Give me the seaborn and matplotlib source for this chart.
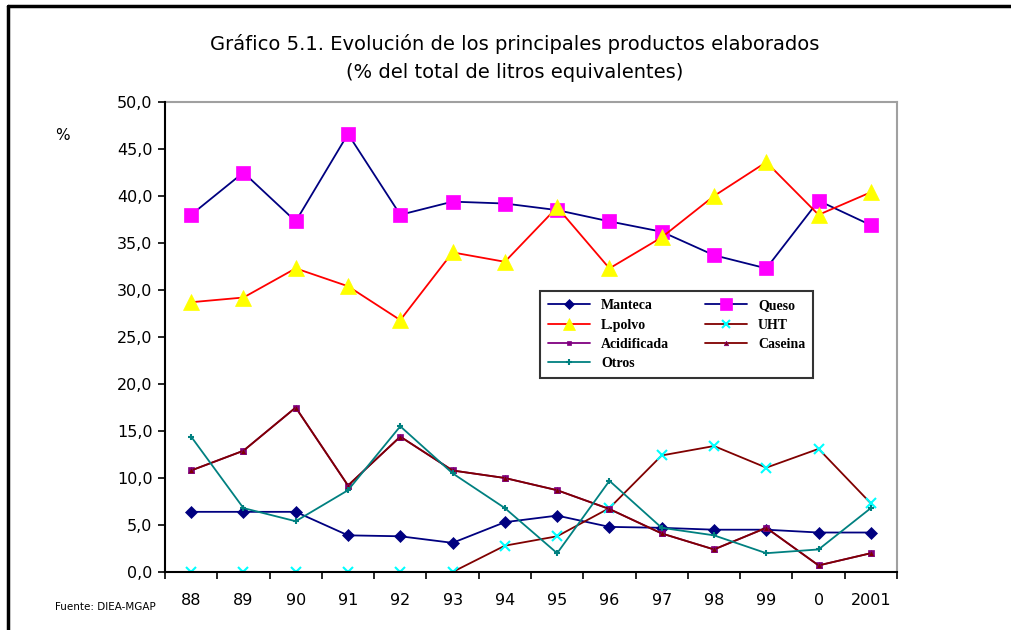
import matplotlib
matplotlib.use("Agg")
import numpy as np
import seaborn as sns
import matplotlib.pyplot as plt
from matplotlib.lines import Line2D

# =========================
# DATA (% of total equivalent litres)
# =========================
years = ["88", "89", "90", "91", "92", "93", "94", "95", "96", "97", "98", "99", "0", "2001"]

manteca = [6.4, 6.4, 6.4, 3.9, 3.8, 3.1, 5.3, 6.0, 4.8, 4.7, 4.5, 4.5, 4.2, 4.2]
queso = [38.0, 42.5, 37.3, 46.6, 38.0, 39.4, 39.2, 38.5, 37.3, 36.2, 33.7, 32.3, 39.5, 36.9]
lpolvo = [28.7, 29.2, 32.3, 30.4, 26.8, 34.0, 33.0, 38.8, 32.3, 35.6, 40.0, 43.6, 38.0, 40.4]
uht = [0.0, 0.0, 0.0, 0.0, 0.0, 0.0, 2.8, 3.8, 6.8, 12.4, 13.4, 11.1, 13.1, 7.3]
acidificada = [10.8, 12.9, 17.5, 9.2, 14.4, 10.8, 10.0, 8.7, 6.7, 4.1, 2.4, 4.7, 0.7, 2.0]
caseina = [10.8, 12.9, 17.5, 9.2, 14.4, 10.8, 10.0, 8.7, 6.7, 4.1, 2.4, 4.7, 0.7, 2.0]
otros = [14.4, 6.8, 5.4, 8.7, 15.5, 10.5, 6.8, 2.0, 9.7, 4.7, 3.9, 2.0, 2.4, 6.8]

x = np.arange(len(years))

# =========================
# STYLE
# =========================
sns.set_style("white")
plt.rcParams["font.family"] = ["DejaVu Sans"]
plt.rcParams["text.color"] = "black"
plt.rcParams["xtick.color"] = "black"
plt.rcParams["ytick.color"] = "black"

fig = plt.figure(figsize=(10.11, 6.30), dpi=100)
ax = fig.add_axes([165 / 1011, 1 - 572 / 630, 732 / 1011, 470 / 630])

# series: label, values, line color, marker, marker size, marker face, marker edge
series = [
    ("Manteca", manteca, "#000080", "D", 6, "#000080", "#000080"),
    ("Queso", queso, "#000080", "s", 10, "#FF00FF", "#FF00FF"),
    ("L.polvo", lpolvo, "#FF0000", "^", 11, "#FFFF00", "#FFFF00"),
    ("UHT", uht, "#800000", "x", 7, "#00FFFF", "#00FFFF"),
    ("Acidificada", acidificada, "#800080", "s", 4, "#800080", "#800080"),
    ("Caseina", caseina, "#800000", "^", 4, "#800000", "#800080"),
    ("Otros", otros, "#008080", "+", 5, "#008080", "#008080"),
]

handles = {}
for name, vals, lc, mk, ms, mfc, mec in series:
    sns.lineplot(x=x, y=vals, ax=ax, color=lc, linewidth=1.3,
                 marker=mk, markersize=ms, markerfacecolor=mfc,
                 markeredgecolor=mec, markeredgewidth=1.5 if mk in "x+" else 0.5,
                 legend=False)
    handles[name] = Line2D([0], [0], color=lc, linewidth=1.3, marker=mk,
                           markersize=ms * 0.8, markerfacecolor=mfc,
                           markeredgecolor=mec,
                           markeredgewidth=1.5 if mk in "x+" else 0.5)

# =========================
# AXES
# =========================
ax.set_xlim(-0.5, len(years) - 0.5)
ax.set_ylim(0, 50)
ax.set_yticks(np.arange(0, 51, 5))
ax.set_yticklabels([f"{v:.1f}".replace(".", ",") for v in np.arange(0, 51, 5)],
                   fontsize=11.5)
ax.set_xticks(x)
ax.set_xticklabels(years, fontsize=11.5)
ax.set_xticks(np.arange(-0.5, len(years), 1), minor=True)
ax.tick_params(axis="x", which="major", length=0, pad=15)
ax.tick_params(axis="x", which="minor", length=5, width=1.2, direction="out",
               color="black", bottom=True)
ax.tick_params(axis="y", length=5, width=1.2, direction="out", color="black",
               left=True, pad=4)
ax.set_xlabel("")
ax.set_ylabel("")

for side in ["left", "bottom"]:
    ax.spines[side].set_color("black")
    ax.spines[side].set_linewidth(1.5)
    ax.spines[side].set_zorder(5)
for side in ["top", "right"]:
    ax.spines[side].set_color("#a0a0a0")
    ax.spines[side].set_linewidth(1.5)

# legend: row-wise layout with 2 columns
order = ["Manteca", "L.polvo", "Acidificada", "Otros", "Queso", "UHT", "Caseina"]
leg = ax.legend([handles[n] for n in order], order, ncol=2,
                loc="upper left", bbox_to_anchor=(0.512, 0.598),
                borderaxespad=0, frameon=True, fancybox=False, edgecolor="black",
                handlelength=3.0, columnspacing=2.6, labelspacing=0.45,
                borderpad=0.6,
                prop={"family": "Liberation Serif", "weight": "bold", "size": 10})
leg.get_frame().set_linewidth(1.5)

# =========================
# TEXTS
# =========================
fig.text(515 / 1011, 1 - 44 / 630,
         "Gráfico 5.1. Evolución de los principales productos elaborados",
         ha="center", va="center", fontsize=14)
fig.text(515 / 1011, 1 - 73 / 630, "(% del total de litros equivalentes)",
         ha="center", va="center", fontsize=14)
fig.text(62 / 1011, 1 - 136 / 630, "%", ha="center", va="center", fontsize=11)
fig.text(55 / 1011, 1 - 607 / 630, "Fuente: DIEA-MGAP", ha="left", va="center",
         fontsize=7.5)

# outer frame (top and left edge)
fig.add_artist(Line2D([8 / 1011, 1.0], [1 - 6 / 630, 1 - 6 / 630],
                      color="black", linewidth=2.5, transform=fig.transFigure))
fig.add_artist(Line2D([8 / 1011, 8 / 1011], [1 - 6 / 630, 0.0],
                      color="black", linewidth=2.5, transform=fig.transFigure))

fig.savefig("out.png", dpi=100)
